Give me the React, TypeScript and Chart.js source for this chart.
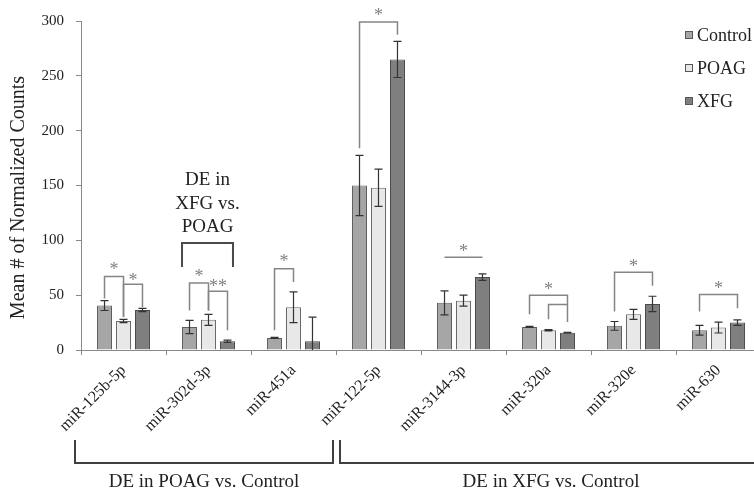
import React, { useEffect, useRef } from 'react';
import { Chart, registerables } from 'chart.js';

Chart.register(...registerables);

const categories = ['miR-125b-5p', 'miR-302d-3p', 'miR-451a', 'miR-122-5p', 'miR-3144-3p', 'miR-320a', 'miR-320e', 'miR-630'];
const seriesNames = ['Control', 'POAG', 'XFG'];
const controlValues = [40.5, 21, 11, 150, 43, 21, 22, 18];
const controlErrors = [4.5, 6, 0.5, 27.5, 11, 0.5, 4, 4.5];
const poagValues = [26.5, 27.5, 39, 148, 45, 18, 32.5, 20.5];
const poagErrors = [1.5, 5, 14, 17, 5, 0.5, 4.5, 5];
const xfgValues = [36.5, 8, 8, 265, 66.5, 15.8, 42, 25];
const xfgErrors = [1.5, 1, 22, 16.5, 3, 0.3, 7, 2.5];
const yMin = 0;
const yMax = 300;
const yStep = 50;
const yTitle = 'Mean # of Normalized Counts';

// significance brackets: category, from series, to series, top value, left leg end, right leg end, label, label value
const sigBrackets = [
  { cat: 0, from: 0, to: 1, top: 67, left: 47, right: 30, label: '*', labelAt: 76 },
  { cat: 0, from: 1, to: 2, top: 60, left: 30, right: 39, label: '*', labelAt: 66 },
  { cat: 1, from: 0, to: 1, top: 61, left: 36, right: 36, label: '*', labelAt: 70 },
  { cat: 1, from: 1, to: 2, top: 53.6, left: 36, right: 18, label: '**', labelAt: 61 },
  { cat: 2, from: 0, to: 1, top: 74, left: 18, right: 62, label: '*', labelAt: 83 },
  { cat: 3, from: 0, to: 2, top: 299, left: 184, right: 287.5, label: '*', labelAt: 307.5 },
  { cat: 4, from: 0, to: 2, top: 84.5, left: null, right: null, label: '*', labelAt: 92.7 },
  { cat: 5, from: 0, to: 2, top: 50, left: 32.7, right: 25.5, label: '*', labelAt: 57.5 },
  { cat: 5, from: 1, to: 2, top: 41.5, left: 28, right: null, label: '', labelAt: 0 },
  { cat: 6, from: 0, to: 2, top: 71, left: 35, right: 58.5, label: '*', labelAt: 79 },
  { cat: 7, from: 0, to: 2, top: 50.5, left: 35, right: 38, label: '*', labelAt: 58.5 },
];

const deBracketCat = 1;
const deBracketTop = 97.5;
const deBracketLeg = 75.7;
const deBracketLines = ['DE in', 'XFG vs.', 'POAG'];
const deBracketTextBottom = 112;

const groupLabels = ['DE in POAG vs. Control', 'DE in XFG vs. Control'];
const groupFirst = [0, 3];
const groupLast = [2, 7];

const values = [controlValues, poagValues, xfgValues];
const errors = [controlErrors, poagErrors, xfgErrors];
const fills = ['#a6a6a6', '#e8e8e8', '#7f7f7f'];
const borders = ['#5e5e5e', '#6a6a6a', '#4a4a4a'];

const FONT = "'Liberation Serif', 'Times New Roman', serif";

const errorBarPlugin = {
  id: 'errorBars',
  afterDatasetsDraw(chart: any) {
    const ctx = chart.ctx;
    const y = chart.scales.y;
    ctx.save();
    ctx.strokeStyle = '#333333';
    ctx.lineWidth = 1.2;
    chart.data.datasets.forEach((ds: any, di: number) => {
      const meta = chart.getDatasetMeta(di);
      meta.data.forEach((bar: any, i: number) => {
        const v = values[di][i];
        const e = errors[di][i];
        const hi = y.getPixelForValue(v + e);
        const loVal = v - e;
        const lo = y.getPixelForValue(Math.max(loVal, 0));
        const x = bar.x;
        const cap = 4;
        ctx.beginPath();
        ctx.moveTo(x, hi);
        ctx.lineTo(x, lo);
        ctx.moveTo(x - cap, hi);
        ctx.lineTo(x + cap, hi);
        if (loVal > 0) {
          ctx.moveTo(x - cap, lo);
          ctx.lineTo(x + cap, lo);
        }
        ctx.stroke();
      });
    });
    ctx.restore();
  },
};

const annotationPlugin = {
  id: 'annotations',
  afterDraw(chart: any) {
    const ctx = chart.ctx;
    const xs = chart.scales.x;
    const y = chart.scales.y;
    const area = chart.chartArea;
    ctx.save();

    // significance brackets
    ctx.strokeStyle = '#858585';
    ctx.lineWidth = 1.5;
    sigBrackets.forEach((b) => {
      const x1 = chart.getDatasetMeta(b.from).data[b.cat].x;
      const x2 = chart.getDatasetMeta(b.to).data[b.cat].x;
      const yt = y.getPixelForValue(b.top);
      ctx.beginPath();
      if (b.left !== null) {
        ctx.moveTo(x1, y.getPixelForValue(b.left));
        ctx.lineTo(x1, yt);
      } else {
        ctx.moveTo(x1, yt);
      }
      ctx.lineTo(x2, yt);
      if (b.right !== null) ctx.lineTo(x2, y.getPixelForValue(b.right));
      ctx.stroke();
      if (b.label) {
        ctx.fillStyle = '#808080';
        ctx.font = `18px ${FONT}`;
        ctx.textAlign = 'center';
        ctx.textBaseline = 'alphabetic';
        ctx.fillText(b.label, (x1 + x2) / 2, y.getPixelForValue(b.labelAt) + 8.5);
      }
    });

    // DE in XFG vs POAG bracket
    const c0 = chart.getDatasetMeta(0).data[deBracketCat];
    const c2 = chart.getDatasetMeta(2).data[deBracketCat];
    const dx1 = c0.x - c0.width / 2;
    const dx2 = c2.x + c2.width / 2 - 2;
    ctx.strokeStyle = '#4a4a4a';
    ctx.lineWidth = 2;
    ctx.beginPath();
    ctx.moveTo(dx1, y.getPixelForValue(deBracketLeg));
    ctx.lineTo(dx1, y.getPixelForValue(deBracketTop));
    ctx.lineTo(dx2, y.getPixelForValue(deBracketTop));
    ctx.lineTo(dx2, y.getPixelForValue(deBracketLeg));
    ctx.stroke();
    ctx.fillStyle = '#222222';
    ctx.font = `19px ${FONT}`;
    ctx.textAlign = 'center';
    ctx.textBaseline = 'middle';
    const tb = y.getPixelForValue(deBracketTextBottom);
    deBracketLines.forEach((line, i) => {
      ctx.fillText(line, (dx1 + dx2) / 2, tb - (deBracketLines.length - 1 - i) * 23.5);
    });

    // group brackets below axis
    ctx.strokeStyle = '#404040';
    ctx.lineWidth = 2;
    groupLabels.forEach((lab, g) => {
      const left = xs.getPixelForValue(groupFirst[g] - 0.5) + (g === 0 ? -6 : 4);
      const right = xs.getPixelForValue(groupLast[g] + 0.5) + (g === 0 ? -3 : 1);
      const legTop = area.bottom + 90;
      const lineY = area.bottom + 113;
      ctx.beginPath();
      ctx.moveTo(left, legTop);
      ctx.lineTo(left, lineY);
      ctx.lineTo(right, lineY);
      ctx.lineTo(right, legTop);
      ctx.stroke();
      ctx.fillStyle = '#222222';
      ctx.font = `19px ${FONT}`;
      ctx.textAlign = 'center';
      ctx.textBaseline = 'middle';
      ctx.fillText(lab, (left + right) / 2, area.bottom + 132);
    });

    // y axis title
    ctx.save();
    ctx.translate(19, (area.top + area.bottom) / 2 + 12);
    ctx.rotate(-Math.PI / 2);
    ctx.fillStyle = '#222222';
    ctx.font = `20px ${FONT}`;
    ctx.textAlign = 'center';
    ctx.textBaseline = 'middle';
    ctx.fillText(yTitle, 0, 0);
    ctx.restore();

    // legend
    const rows = [35, 68, 101];
    seriesNames.forEach((name, i) => {
      ctx.fillStyle = fills[i];
      ctx.fillRect(685, rows[i] - 4, 8, 8);
      ctx.strokeStyle = '#555555';
      ctx.lineWidth = 1;
      ctx.strokeRect(685.5, rows[i] - 3.5, 7, 7);
      ctx.fillStyle = '#222222';
      ctx.font = `18px ${FONT}`;
      ctx.textAlign = 'left';
      ctx.textBaseline = 'middle';
      ctx.fillText(name, 697, rows[i] + 1);
    });

    ctx.restore();
  },
};

export default function App() {
  const canvasRef = useRef<HTMLCanvasElement | null>(null);

  useEffect(() => {
    document.body.style.margin = '0';
    const canvas = canvasRef.current;
    if (!canvas) return;
    Chart.defaults.font.family = FONT;
    const chart = new Chart(canvas, {
      type: 'bar',
      data: {
        labels: categories,
        datasets: seriesNames.map((name, i) => ({
          label: name,
          data: values[i],
          backgroundColor: fills[i],
          borderColor: borders[i],
          borderWidth: 1,
          categoryPercentage: 0.67,
          barPercentage: 0.79,
        })),
      },
      options: {
        responsive: false,
        animation: false,
        devicePixelRatio: 1,
        layout: { padding: { top: 20, right: 9, left: 0, bottom: 0 } },
        plugins: { legend: { display: false }, tooltip: { enabled: false } },
        scales: {
          x: {
            grid: { display: true, drawOnChartArea: false, drawTicks: true, tickLength: 5, color: '#888888', offset: true },
            border: { display: true, color: '#888888', width: 1 },
            ticks: { minRotation: 45, maxRotation: 45, autoSkip: false, color: '#222222', font: { size: 16, family: FONT }, padding: 6 },
            afterFit: (s: any) => { s.height = 142; },
          },
          y: {
            min: yMin,
            max: yMax,
            ticks: { stepSize: yStep, color: '#222222', font: { size: 15, family: FONT }, padding: 12 },
            grid: { display: true, drawOnChartArea: false, drawTicks: true, tickLength: 5, color: '#888888' },
            border: { display: true, color: '#888888', width: 1 },
            afterFit: (s: any) => { s.width = 81; },
          },
        },
      } as any,
      plugins: [errorBarPlugin, annotationPlugin],
    });
    return () => chart.destroy();
  }, []);

  return (
    <div style={{ width: 754, height: 492, overflow: 'hidden', position: 'relative', background: '#fff' }}>
      <canvas ref={canvasRef} width={770} height={492} style={{ width: 770, height: 492, display: 'block' }} />
    </div>
  );
}
